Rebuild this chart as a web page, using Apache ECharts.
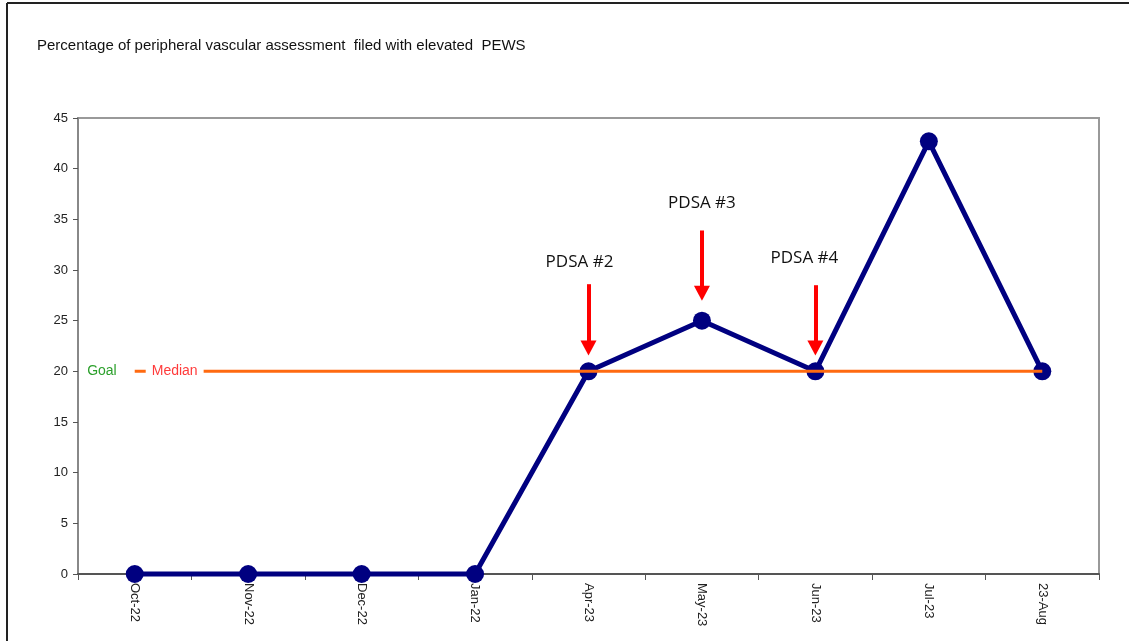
<!DOCTYPE html>
<html>
<head>
<meta charset="utf-8">
<script src="https://cdn.jsdelivr.net/npm/echarts@6/dist/echarts.min.js"></script>
<style>
html,body{margin:0;padding:0;background:#fff;}
#chart{width:1129px;height:641px;}
</style>
</head>
<body>
<div id="chart"></div>
<script>
const categories = ['Oct-22','Nov-22','Dec-22','Jan-22','Apr-23','May-23','Jun-23','Jul-23','23-Aug'];
const percentValues = [0, 0, 0, 0, 20, 25, 20, 42.7, 20];
const medianValues = [20, 20, 20, 20, 20, 20, 20, 20, 20];
const yTicks = [0, 5, 10, 15, 20, 25, 30, 35, 40, 45];
const pdsaLabels = ['PDSA #2', 'PDSA #3', 'PDSA #4'];
const pdsaCategories = ['Apr-23', 'May-23', 'Jun-23'];
const pdsaArrowTop = [28.6, 33.9, 28.5];
const pdsaArrowEnd = [22.3, 27.7, 22.3];
const pdsaTextY = [30.8, 36.6, 31.2];

const chart = echarts.init(document.getElementById('chart'), null, {renderer: 'canvas'});

const arrowLines = pdsaCategories.map((c, i) => [
  {coord: [c, pdsaArrowTop[i]], symbol: 'none'},
  {coord: [c, pdsaArrowEnd[i]], symbol: 'triangle'}
]);
const arrowTexts = pdsaCategories.map((c, i) => ({
  coord: [c, pdsaTextY[i]],
  value: pdsaLabels[i],
  label: {offset: [i === 0 ? -9 : (i === 2 ? -11 : 0), 0]}
}));

chart.setOption({
  animation: false,
  backgroundColor: '#fff',
  title: {
    text: 'Percentage of peripheral vascular assessment  filed with elevated  PEWS',
    left: 32, top: 33,
    textStyle: {fontFamily: 'Liberation Sans, Arial, sans-serif', fontSize: 15, fontWeight: 'normal', color: '#111'}
  },
  graphic: [
    {type: 'line', shape: {x1: 7, y1: 3, x2: 1129, y2: 3}, style: {stroke: '#222', lineWidth: 2}},
    {type: 'line', shape: {x1: 7, y1: 3, x2: 7, y2: 641}, style: {stroke: '#222', lineWidth: 2}}
  ],
  grid: {left: 78, top: 118, right: 30, bottom: 67, show: true, borderColor: '#999', borderWidth: 2, backgroundColor: 'transparent'},
  xAxis: {
    type: 'category',
    data: categories,
    boundaryGap: true,
    axisLine: {lineStyle: {color: '#555', width: 2}},
    axisTick: {show: true, length: 6, alignWithLabel: false, lineStyle: {color: '#555', width: 1}},
    axisLabel: {rotate: -90, margin: 9, fontFamily: 'Liberation Sans, Arial, sans-serif', fontSize: 13, color: '#222'},
    splitLine: {show: false}
  },
  yAxis: {
    type: 'value',
    min: yTicks[0], max: yTicks[yTicks.length - 1], interval: 5,
    axisLine: {show: true, lineStyle: {color: '#888', width: 2}},
    axisTick: {show: true, length: 5, lineStyle: {color: '#555'}},
    axisLabel: {margin: 10, fontFamily: 'Liberation Sans, Arial, sans-serif', fontSize: 13, color: '#222'},
    splitLine: {show: false}
  },
  series: [
    {
      name: 'Percentage',
      type: 'line',
      data: percentValues,
      clip: false,
      z: 3,
      symbol: 'circle',
      symbolSize: 18,
      lineStyle: {color: '#000080', width: 5},
      itemStyle: {color: '#000080'},
      markLine: {
        silent: true,
        symbolSize: [16, 15],
        lineStyle: {color: '#ff0000', width: 4, type: 'solid'},
        itemStyle: {color: '#ff0000'},
        label: {show: false},
        data: arrowLines
      },
      markPoint: {
        silent: true,
        symbol: 'circle',
        symbolSize: 0,
        label: {show: true, position: 'inside', formatter: p => p.value, fontFamily: 'Open Sans, Noto Sans, sans-serif', fontSize: 17, color: '#111'},
        data: arrowTexts
      }
    },
    {
      name: 'Median',
      type: 'line',
      data: medianValues,
      z: 4,
      symbol: 'none',
      lineStyle: {color: '#ff6a10', width: 3},
      itemStyle: {color: '#ff6a10'},
      markPoint: {
        silent: true,
        symbol: 'circle',
        symbolSize: 0,
        z: 10,
        data: [
          {coord: [categories[0], medianValues[0]], value: 'Goal',
           label: {show: true, position: 'left', distance: 18, formatter: 'Goal', color: '#2ca02c', fontFamily: 'Liberation Sans, Arial, sans-serif', fontSize: 14}},
          {coord: [categories[0], medianValues[0]], value: 'Median',
           label: {show: true, position: 'right', distance: 11, formatter: 'Median', color: '#ff3b3b', backgroundColor: '#fff', padding: [2, 6, 2, 6], fontFamily: 'Liberation Sans, Arial, sans-serif', fontSize: 14}}
        ]
      }
    }
  ]
});
</script>
</body>
</html>
